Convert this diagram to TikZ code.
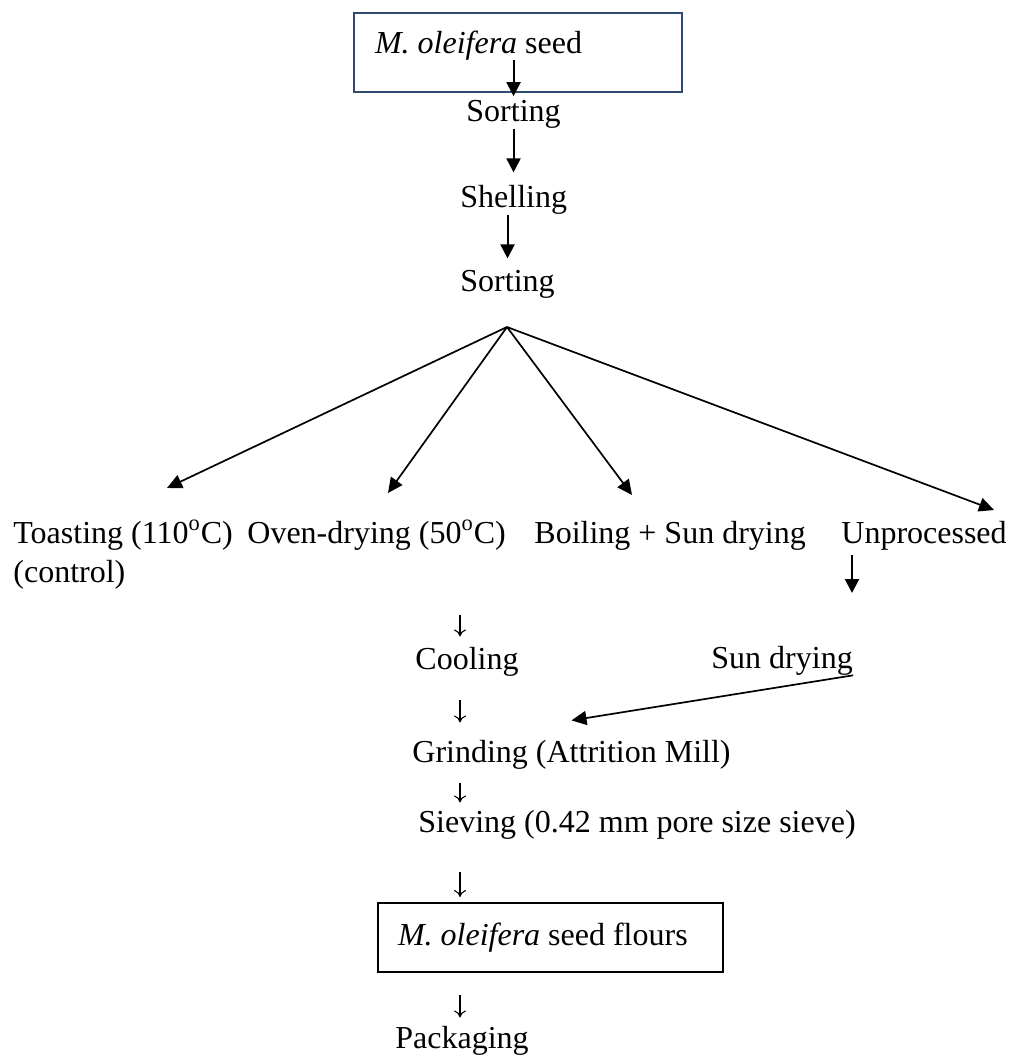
\documentclass[tikz,border=0pt]{standalone}
\usepackage{fontspec}
\setmainfont{Liberation Serif}
\usetikzlibrary{arrows.meta}
\definecolor{boxblue}{HTML}{2F4B70}
\begin{document}
\begin{tikzpicture}[x=0.5pt,y=-0.5pt,
    every node/.style={inner sep=0pt,font=\fontsize{16}{19}\selectfont},
    etape/.style={anchor=base west},
    boite/.style={draw,line width=1pt,inner xsep=10pt,text width=152.5pt,align=flush left},
    gros/.style={line width=1pt,-{Triangle[length=7pt,width=7pt]}},
    branche/.style={line width=0.85pt,-{Triangle[length=7.5pt,width=7pt]}},
    fin/.style={line width=0.55pt,-{To[length=3.5pt,width=6pt]}}]
  \useasboundingbox (0,0) rectangle (1008,1059);
  % Graines, tri et décorticage
  \node[boite,draw=boxblue,line width=1.2pt,text width=143pt,inner xsep=10.5pt,
        minimum height=39.5pt,text depth=10.5pt] (seed) at (518,52.5) {\textit{M. oleifera} seed};
  \node[etape] (sortA) at (466,122) {Sorting};
  \node[etape] (shell) at (460,208) {Shelling};
  \node[etape] (sortB) at (460,292) {Sorting};
  \coordinate (split) at (507,327);
  % Les quatre traitements
  \node[etape] (toast) at (13,543) {Toasting (110\textsuperscript{o}C)};
  \node[etape] (control) at (13,582) {(control)};
  \node[etape] (oven) at (247,543) {Oven-drying (50\textsuperscript{o}C)};
  \node[etape] (boil) at (534,543) {Boiling + Sun drying};
  \node[etape] (raw) at (841,543) {Unprocessed};
  \coordinate (toast-tip) at (167,488);
  \coordinate (oven-tip) at (388,493);
  \coordinate (boil-tip) at (632,495);
  \coordinate (raw-tip) at (994,510);
  \coordinate (raw-end) at (852,593);
  % Suite du procédé
  \node[etape] (cool) at (415,669) {Cooling};
  \node[etape] (sun) at (711,668) {Sun drying};
  \node[etape] (grind) at (412,762) {Grinding (Attrition Mill)};
  \node[etape] (sieve) at (418,832) {Sieving (0.42 mm pore size sieve)};
  \node[boite,minimum height=34.5pt] (flour) at (550.5,937.5) {\textit{M. oleifera} seed flours};
  \node[etape] (pack) at (395,1048) {Packaging};
  \coordinate (col) at (460,0);
  % Flèches
  \draw[gros,shorten <=3.75pt,shorten >=-1.5pt] (seed.center -| sortA) -- (seed.south -| sortA);
  \draw[gros,shorten >=6.5pt] (sortA.south) -- (sortA.south |- shell.north);
  \draw[gros,shorten >=6pt] (sortB.north |- shell.south) -- (sortB.north);
  \foreach \c in {toast,oven,boil,raw}
    \draw[branche] (split) -- (\c-tip);
  \draw[gros,shorten <=2.5pt] (raw.south -| raw-end) -- (raw-end);
  \draw[branche] (sun.south east) -- ([yshift=9.5pt]grind.north);
  \draw[fin,shorten <=32.5pt,shorten >=5pt] (oven.south -| col) -- (cool.north -| col);
  \draw[fin,shorten <=12pt,shorten >=8.5pt] (cool.south -| col) -- (grind.north -| col);
  \draw[fin,shorten <=7pt,shorten >=3.5pt] (grind.south -| col) -- (sieve.north -| col);
  \draw[fin,shorten <=16.5pt,shorten >=2.5pt] (sieve.south -| col) -- (flour.north -| col);
  \draw[fin,shorten <=11pt,shorten >=4pt] (flour.south -| col) -- (pack.north -| col);
\end{tikzpicture}
\end{document}
